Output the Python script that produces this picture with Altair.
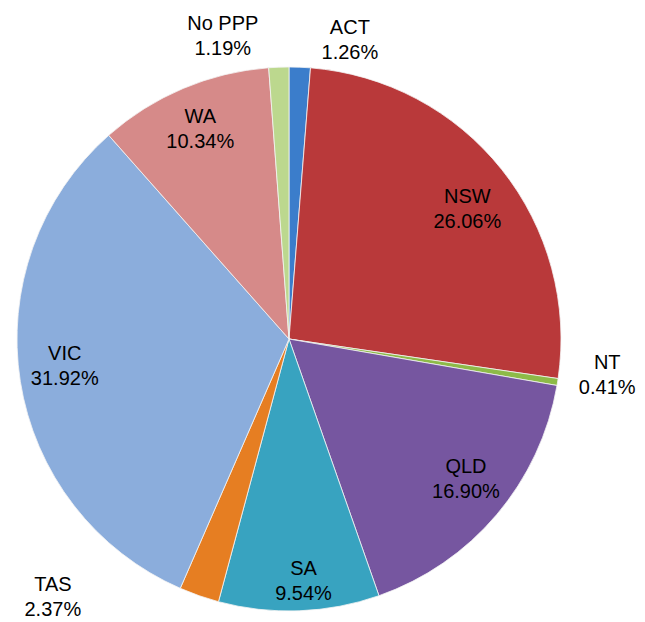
import altair as alt
import pandas as pd

categories = ["ACT", "NSW", "NT", "QLD", "SA", "TAS", "VIC", "WA", "No PPP"]
shares = [1.26, 26.06, 0.41, 16.90, 9.54, 2.37, 31.92, 10.34, 1.19]
colors = ["#3b7dcb", "#b9393a", "#8dba48", "#7656a0", "#38a3c0", "#e67e22",
          "#8baddc", "#d68a89", "#bcd88e"]

df = pd.DataFrame({"cat": categories, "share": shares})
df["end"] = df["share"].cumsum()
df["start"] = df["end"] - df["share"]
df["mid"] = (df["start"] + df["end"]) / 2
df["label"] = [f"{c}\n{v:.2f}%" for c, v in zip(categories, shares)]
total = float(df["share"].sum())

CX, CY, R = 281, 331, 272
FONT = "Liberation Sans"

tscale = alt.Scale(domain=[0, total], range=[0, 6.283185307179586])
color = alt.Color("cat:N", scale=alt.Scale(domain=categories, range=colors), legend=None)

pie = alt.Chart(df).mark_arc(outerRadius=R, stroke="#f4f4f4", strokeWidth=0.8).encode(
    theta=alt.Theta("start:Q", scale=tscale, stack=None),
    theta2="end:Q",
    color=color,
    x=alt.value(CX), y=alt.value(CY),
)

text_common = dict(font=FONT, fontSize=20, lineBreak="\n", lineHeight=25,
                   color="black", align="center", baseline="middle")

# label placement: (radius, dx, dy) per category, a layout style
placement = {
    "ACT": (300, 49, -11),
    "NSW": (228, 0, 0),
    "NT": (300, 22, -23),
    "QLD": (228, 3, -19),
    "SA": (228, 6, 2),
    "TAS": (300, -137, -37),
    "VIC": (228, 1, -21),
    "WA": (228, 0, -12),
    "No PPP": (300, -55, -15),
}

labels = []
for c in categories:
    r, dx, dy = placement[c]
    labels.append(
        alt.Chart(df).transform_filter(alt.FieldEqualPredicate(field="cat", equal=c))
        .mark_text(radius=r, dx=dx, dy=dy, **text_common).encode(
            theta=alt.Theta("mid:Q", scale=tscale, stack=None),
            x=alt.value(CX), y=alt.value(CY), text="label:N",
        )
    )

chart = alt.layer(pie, *labels).properties(
    width=629, height=614, padding=0, autosize="none"
).configure_view(stroke=None)

chart.save("out.html", embed_options={"renderer": "svg", "actions": False})
